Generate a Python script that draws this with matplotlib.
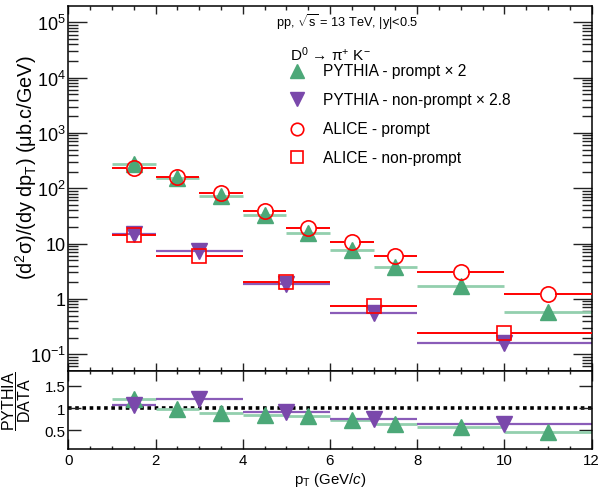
import numpy as np
import matplotlib
matplotlib.use("Agg")
import matplotlib.pyplot as plt
from matplotlib.ticker import FixedLocator, NullFormatter, MultipleLocator, FixedFormatter

plt.rcParams['font.family'] = ['Liberation Sans', 'DejaVu Sans']
plt.rcParams['mathtext.fontset'] = 'custom'
plt.rcParams['mathtext.rm'] = 'Liberation Sans'
plt.rcParams['mathtext.it'] = 'Liberation Sans:italic'
plt.rcParams['mathtext.bf'] = 'Liberation Sans:bold'

# ---------------- data ----------------
# prompt D0 bins
prompt_lo = [1, 2, 3, 4, 5, 6, 7, 8, 10]
prompt_hi = [2, 3, 4, 5, 6, 7, 8, 10, 12]
alice_prompt = [230, 158, 81, 38, 18.8, 10.6, 6.0, 3.0, 1.24]
pythia_prompt = [276, 153, 72, 32.3, 15.4, 7.7, 3.84, 1.71, 0.57]

# non-prompt D0 bins
nonprompt_lo = [1, 2, 4, 6, 8]
nonprompt_hi = [2, 4, 6, 8, 12]
alice_nonprompt = [14.1, 6.0, 2.05, 0.75, 0.245]
pythia_nonprompt = [15.1, 7.2, 1.87, 0.56, 0.157]

decade_ticks = [0.1, 1, 10, 100, 1000, 10000, 100000]
decade_labels = ['$10^{-1}$', '1', '10', '$10^{2}$', '$10^{3}$', '$10^{4}$', '$10^{5}$']
ratio_ticks = [0.5, 1.0, 1.5]
ratio_labels = ['0.5', '1', '1.5']
x_ticks = [0, 2, 4, 6, 8, 10, 12]

GREEN = '#4ca878'
GREEN_L = '#93cfae'
PURPLE = '#7a48ab'
PURPLE_L = '#8a5cb8'
RED = '#ff0000'

W, H = 601, 489
fig = plt.figure(figsize=(W / 100, H / 100), dpi=100)

def frac(x0, y0, x1, y1):
    return [x0 / W, 1 - y1 / H, (x1 - x0) / W, (y1 - y0) / H]

ax = fig.add_axes(frac(68.3, 7, 591.5, 372.3))
axr = fig.add_axes(frac(68.3, 372.3, 591.5, 450))

def centers(lo, hi):
    lo = np.asarray(lo, float); hi = np.asarray(hi, float)
    return (lo + hi) / 2, (hi - lo) / 2

pc, pe = centers(prompt_lo, prompt_hi)
nc, ne = centers(nonprompt_lo, nonprompt_hi)

def hbars(a, c, e, y, color, lw=1.6, gap=0.0, z=2):
    for xc, xe, yy in zip(c, e, y):
        if gap > 0:
            a.plot([xc - xe, xc - gap], [yy, yy], color=color, lw=lw, zorder=z, solid_capstyle='butt')
            a.plot([xc + gap, xc + xe], [yy, yy], color=color, lw=lw, zorder=z, solid_capstyle='butt')
        else:
            a.plot([xc - xe, xc + xe], [yy, yy], color=color, lw=lw, zorder=z, solid_capstyle='butt')

MS = 11
# upper pad
hbars(ax, pc, pe, pythia_prompt, GREEN_L, lw=2.0)
ax.plot(pc, pythia_prompt, ls='none', marker='^', ms=MS, color=GREEN, mec=GREEN, zorder=3)
hbars(ax, nc, ne, pythia_nonprompt, PURPLE_L, lw=1.6)
ax.plot(nc, pythia_nonprompt, ls='none', marker='v', ms=MS, color=PURPLE, mec=PURPLE, zorder=3)
hbars(ax, pc, pe, alice_prompt, RED, lw=1.4, gap=0.17, z=4)
ax.plot(pc, alice_prompt, ls='none', marker='o', ms=MS, mfc='none', mec=RED, mew=1.2, zorder=5)
hbars(ax, nc, ne, alice_nonprompt, RED, lw=1.4, gap=0.16, z=4)
ax.plot(nc, alice_nonprompt, ls='none', marker='s', ms=10, mfc='none', mec=RED, mew=1.2, zorder=5)

ax.set_yscale('log')
ax.set_xlim(0, 12)
ax.set_ylim(0.049, 1.97e5)
ax.yaxis.set_major_locator(FixedLocator(decade_ticks))
ax.yaxis.set_major_formatter(FixedFormatter(decade_labels))
minor = [d * k for d in [0.01] + decade_ticks for k in range(2, 10)]
ax.yaxis.set_minor_locator(FixedLocator(minor))
ax.yaxis.set_minor_formatter(NullFormatter())
ax.xaxis.set_major_locator(MultipleLocator(2))
ax.xaxis.set_minor_locator(MultipleLocator(0.5))
ax.set_xticklabels([])
ax.tick_params(which='both', direction='in', top=True, right=True, width=1.0, color='#222222')
ax.tick_params(axis='x', which='major', length=6.0)
ax.tick_params(axis='x', which='minor', length=3.0)
ax.tick_params(axis='y', which='major', length=13.5, labelsize=13, pad=2)
ax.tick_params(axis='y', which='minor', length=7.0)
for s in ax.spines.values():
    s.set_linewidth(1.1)

# y-axis title (placed like the ROOT title, shifted toward the top)
fig.text(26 / W, 1 - 168 / H, '(d$^{2}$σ)/(dy dp$_{\\mathrm{T}}$) (μb.c/GeV)', rotation=90,
         fontsize=14.3, ha='center', va='center')

# title
ax.text(0.397, 0.959, 'pp, $\\sqrt{\\mathrm{s}}$ = 13 TeV, |y|<0.5', transform=ax.transAxes,
        fontsize=9.2, ha='left', va='center')

# legend (manual)
ax.text(0.4235, 0.8686, 'D$^{0}$ → π$^{+}$ K$^{-}$', transform=ax.transAxes,
        fontsize=11, ha='left', va='center')
leg_rows = [0.8222, 0.7454, 0.6633, 0.5866]
leg_text = ['PYTHIA - prompt × 2', 'PYTHIA - non-prompt × 2.8', 'ALICE - prompt', 'ALICE - non-prompt']
leg_style = [dict(marker='^', color=GREEN, mec=GREEN, ms=9.5),
             dict(marker='v', color=PURPLE, mec=PURPLE, ms=9.5),
             dict(marker='o', mfc='none', mec=RED, mew=1.2, ms=9),
             dict(marker='s', mfc='none', mec=RED, mew=1.2, ms=8.5)]
for yy, t, st in zip(leg_rows, leg_text, leg_style):
    ax.plot([0.4365], [yy], ls='none', transform=ax.transAxes, clip_on=False, **st)
    ax.text(0.4862, yy, t, transform=ax.transAxes, fontsize=11.2, ha='left', va='center')

# ratio pad
ratio_prompt = np.asarray(pythia_prompt) / np.asarray(alice_prompt)
ratio_nonprompt = np.asarray(pythia_nonprompt) / np.asarray(alice_nonprompt)
axr.plot([0, 12], [1, 1], color='black', lw=2.6, ls=(0, (1, 1)), zorder=1)
hbars(axr, pc, pe, ratio_prompt, GREEN_L, lw=2.0)
axr.plot(pc, ratio_prompt, ls='none', marker='^', ms=MS, color=GREEN, mec=GREEN, zorder=3)
hbars(axr, nc, ne, ratio_nonprompt, PURPLE_L, lw=1.6)
axr.plot(nc, ratio_nonprompt, ls='none', marker='v', ms=MS, color=PURPLE, mec=PURPLE, zorder=3)

axr.set_xlim(0, 12)
axr.set_ylim(0.077, 1.83)
axr.yaxis.set_major_locator(FixedLocator(ratio_ticks))
axr.yaxis.set_major_formatter(FixedFormatter(ratio_labels))
axr.xaxis.set_major_locator(FixedLocator(x_ticks))
axr.xaxis.set_minor_locator(MultipleLocator(0.5))
axr.tick_params(which='both', direction='in', top=True, right=True, width=1.0, color='#222222')
axr.tick_params(axis='x', which='major', length=7.0, labelsize=10.8, pad=3)
axr.tick_params(axis='x', which='minor', length=2.5)
axr.tick_params(axis='y', which='major', length=9.5, labelsize=10.8, pad=2)
for s in axr.spines.values():
    s.set_linewidth(1.1)

axr.set_xlabel('p$_{\\mathrm{T}}$ (GeV/$c$)', fontsize=10.8, labelpad=2)

# fraction label for the ratio pad
fig.text(16.5 / W, 1 - 401 / H, '$\\dfrac{\\mathrm{PYTHIA}}{\\mathrm{DATA}}$', rotation=90,
         fontsize=11.5, ha='center', va='center')

fig.savefig('out.png', dpi=100)
